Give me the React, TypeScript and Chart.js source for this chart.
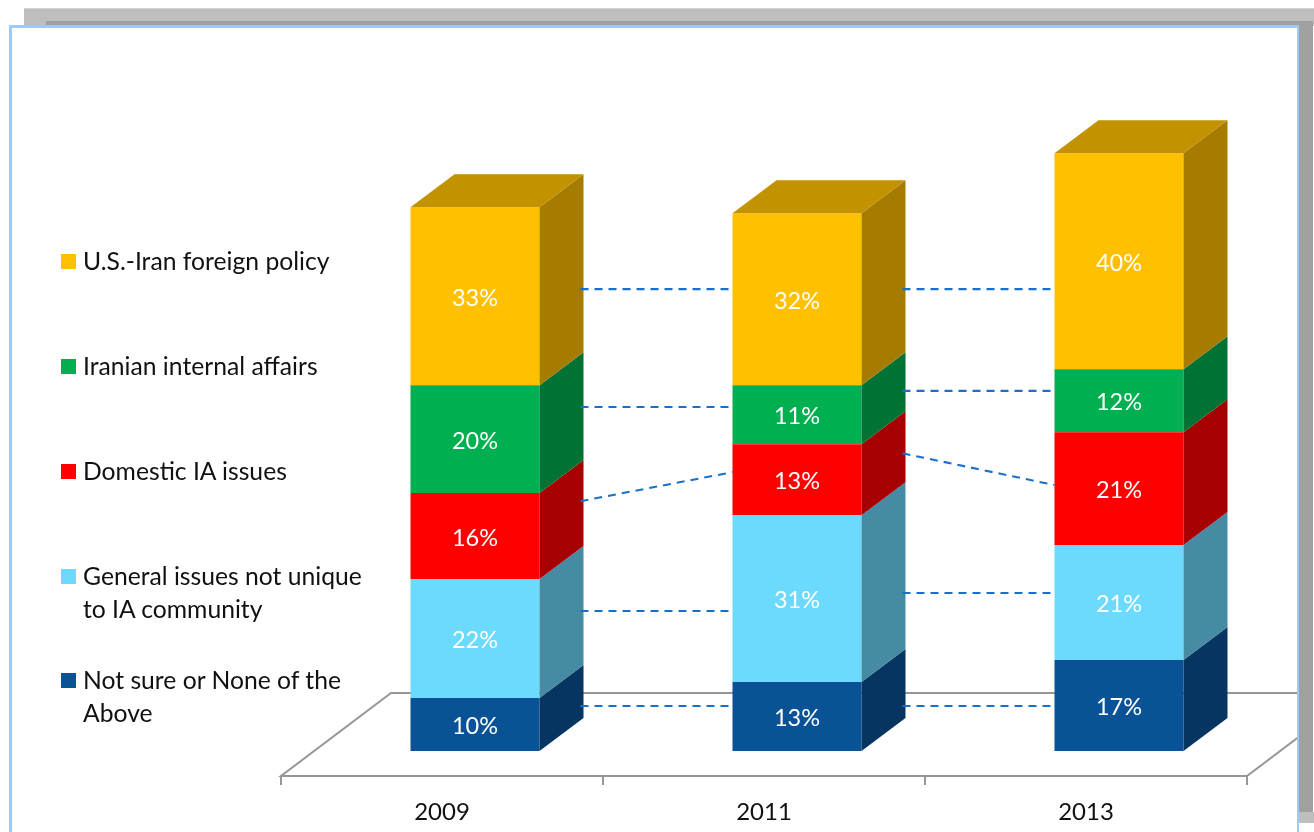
import React, { useEffect, useRef } from "react";
import { Chart, registerables } from "chart.js";

Chart.register(...registerables);

const years = ["2009", "2011", "2013"];

const notSure = [9.84, 12.8, 16.9];
const general = [22.1, 31.0, 21.35];
const domestic = [15.97, 13.2, 20.98];
const iranian = [20.05, 10.96, 11.7];
const foreign = [33.05, 31.94, 40.1];

const notSureLabels = ["10%", "13%", "17%"];
const generalLabels = ["22%", "31%", "21%"];
const domesticLabels = ["16%", "13%", "21%"];
const iranianLabels = ["20%", "11%", "12%"];
const foreignLabels = ["33%", "32%", "40%"];

// Heights (in value units) of the dashed connectors, per gap: [start, end]
const notSureLinks = [[8.36, 8.36], [8.36, 8.36]];
const generalLinks = [[26.0, 26.0], [29.34, 29.34]];
const domesticLinks = [[46.4, 51.8], [55.3, 49.4]];
const iranianLinks = [[63.9, 63.9], [66.9, 66.9]];
const foreignLinks = [[85.8, 85.8], [85.8, 85.8]];
const allLinks = [notSureLinks, generalLinks, domesticLinks, iranianLinks, foreignLinks];

const seriesNames = [
  "Not sure or None of the Above",
  "General issues not unique to IA community",
  "Domestic IA issues",
  "Iranian internal affairs",
  "U.S.-Iran foreign policy",
];
const frontColors = ["#0A5296", "#6BDAFC", "#FF0000", "#00B050", "#FFC000"];
const sideColors = ["#053560", "#458BA4", "#A60000", "#007233", "#A67C00"];
const topColor = "#C29200";
const allValues = [notSure, general, domestic, iranian, foreign];
const allLabels = [notSureLabels, generalLabels, domesticLabels, iranianLabels, foreignLabels];

const FONT = "Lato, 'Open Sans', sans-serif";
const W = 1314;
const H = 832;
const PANEL = { l: 9, t: 25, r: 1299 };
const BAR_DX = 44;
const BAR_DY = 33;
const FLOOR_DX = 110;
const FLOOR_DY = 83;
const FRONT_SHIFT_X = 33;
const FRONT_SHIFT_Y = 25;

function poly(ctx: CanvasRenderingContext2D, pts: number[][], fill: string) {
  ctx.beginPath();
  pts.forEach(([x, y], i) => (i ? ctx.lineTo(x, y) : ctx.moveTo(x, y)));
  ctx.closePath();
  ctx.fillStyle = fill;
  ctx.fill();
}

const framePlugin = {
  id: "frame",
  beforeDraw(chart: any) {
    const c: CanvasRenderingContext2D = chart.ctx;
    c.save();
    c.fillStyle = "#FFFFFF";
    c.fillRect(0, 0, W, H);
    c.fillStyle = "#BEBEBE";
    c.fillRect(24, 8, W - 24, 18);
    c.fillRect(PANEL.r, 812, W - PANEL.r, 11);
    c.fillStyle = "#D2D2D2";
    c.fillRect(24, 8, W - 24, 1);
    c.fillStyle = "#A0A0A0";
    c.fillRect(46, 21, 1267, 5);
    c.fillRect(PANEL.r, 21, 14, 791);
    c.fillStyle = "#FFFFFF";
    c.fillRect(PANEL.l, PANEL.t, PANEL.r - PANEL.l, H - PANEL.t);
    c.fillStyle = "#9CCBFA";
    c.fillRect(PANEL.l, PANEL.t, PANEL.r - PANEL.l, 3);
    c.fillRect(PANEL.l, PANEL.t, 3, H - PANEL.t);
    c.fillRect(PANEL.r - 2, PANEL.t, 2, H - PANEL.t);
    c.restore();
  },
  beforeDatasetsDraw(chart: any) {
    const c: CanvasRenderingContext2D = chart.ctx;
    const x = chart.scales.x;
    const y = chart.scales.y;
    const step = x.width / years.length;
    const fx0 = x.left - FRONT_SHIFT_X;
    const fy = y.bottom + FRONT_SHIFT_Y;
    const fx1 = fx0 + step * years.length;
    c.save();
    c.beginPath();
    c.rect(PANEL.l, PANEL.t, PANEL.r - 2 - PANEL.l, H - PANEL.t);
    c.clip();
    c.strokeStyle = "#969696";
    c.lineWidth = 2;
    c.beginPath();
    c.moveTo(fx1 + FLOOR_DX, fy - FLOOR_DY);
    c.lineTo(fx0 + FLOOR_DX, fy - FLOOR_DY);
    c.lineTo(fx0, fy);
    c.lineTo(fx1, fy);
    c.lineTo(fx1 + FLOOR_DX, fy - FLOOR_DY);
    c.stroke();
    for (let i = 0; i <= years.length; i++) {
      c.beginPath();
      c.moveTo(fx0 + step * i, fy);
      c.lineTo(fx0 + step * i, fy + 9);
      c.stroke();
    }
    c.restore();
  },
  afterDatasetsDraw(chart: any) {
    const c: CanvasRenderingContext2D = chart.ctx;
    const y = chart.scales.y;
    c.save();
    allValues.forEach((_, d) => {
      const meta = chart.getDatasetMeta(d);
      meta.data.forEach((el: any) => {
        const r = el.x + el.width / 2;
        const l = el.x - el.width / 2;
        poly(
          c,
          [[r, el.y], [r + BAR_DX, el.y - BAR_DY], [r + BAR_DX, el.base - BAR_DY], [r, el.base]],
          sideColors[d],
        );
        if (d === allValues.length - 1) {
          poly(
            c,
            [[l, el.y], [l + BAR_DX, el.y - BAR_DY], [r + BAR_DX, el.y - BAR_DY], [r, el.y]],
            topColor,
          );
        }
      });
    });
    // dashed connectors
    c.strokeStyle = "#1A70C8";
    c.lineWidth = 2.1;
    c.setLineDash([8, 6]);
    allLinks.forEach((links, d) => {
      const meta = chart.getDatasetMeta(d);
      links.forEach(([a, b], gap) => {
        const from = meta.data[gap];
        const to = meta.data[gap + 1];
        c.beginPath();
        c.moveTo(from.x + from.width / 2 + BAR_DX - 3, y.getPixelForValue(a));
        c.lineTo(to.x - to.width / 2, y.getPixelForValue(b));
        c.stroke();
      });
    });
    c.setLineDash([]);
    // value labels
    c.fillStyle = "#FFFFFF";
    c.font = `23.5px ${FONT}`;
    c.textAlign = "center";
    c.textBaseline = "middle";
    allLabels.forEach((labels, d) => {
      const meta = chart.getDatasetMeta(d);
      labels.forEach((t, i) => {
        const el = meta.data[i];
        c.fillText(t, el.x, (el.y + el.base) / 2 + 2);
      });
    });
    c.restore();
  },
};

const legendRows = [
  { color: frontColors[4], lines: ["U.S.-Iran foreign policy"], top: 244 },
  { color: frontColors[3], lines: ["Iranian internal affairs"], top: 349 },
  { color: frontColors[2], lines: ["Domestic IA issues"], top: 454 },
  { color: frontColors[1], lines: ["General issues not unique", "to IA community"], top: 559 },
  { color: frontColors[0], lines: ["Not sure or None of the", "Above"], top: 663 },
];

export default function App() {
  const ref = useRef<HTMLCanvasElement | null>(null);
  useEffect(() => {
    if (!ref.current) return;
    const chart = new Chart(ref.current, {
      type: "bar",
      data: {
        labels: years,
        datasets: seriesNames.map((name, d) => ({
          label: name,
          data: allValues[d],
          backgroundColor: frontColors[d],
          borderWidth: 0,
          barPercentage: 129 / 322,
          categoryPercentage: 1,
          stack: "a",
        })),
      },
      options: {
        responsive: false,
        animation: false,
        layout: { padding: { left: 314, right: 34, top: 105, bottom: 0 } },
        plugins: { legend: { display: false }, tooltip: { enabled: false }, title: { display: false } },
        scales: {
          x: {
            stacked: true,
            grid: { display: false },
            border: { display: false },
            afterFit: (s: any) => {
              s.height = 81;
            },
            ticks: {
              color: "#111111",
              font: { family: FONT, size: 24 },
              padding: 39,
              labelOffset: -FRONT_SHIFT_X,
              maxRotation: 0,
            },
          },
          y: { stacked: true, display: false, min: 0, max: 120 },
        },
      },
      plugins: [framePlugin],
    } as any);
    return () => chart.destroy();
  }, []);
  return (
    <div style={{ position: "fixed", left: 0, top: 0, width: W, height: H, overflow: "hidden", background: "#fff" }}>
      <canvas ref={ref} width={W} height={H} style={{ position: "absolute", left: 0, top: 0, width: W, height: H }} />
      {legendRows.map((row) => (
        <div key={row.lines[0]} style={{ position: "absolute", left: 61, top: row.top, fontFamily: FONT, fontSize: 24.7, lineHeight: "33px", color: "#111" }}>
          <span style={{ position: "absolute", left: 0, top: 10, width: 15, height: 15, background: row.color }} />
          <div style={{ marginLeft: 22, whiteSpace: "nowrap" }}>
            {row.lines.map((l) => (
              <div key={l}>{l}</div>
            ))}
          </div>
        </div>
      ))}
    </div>
  );
}
